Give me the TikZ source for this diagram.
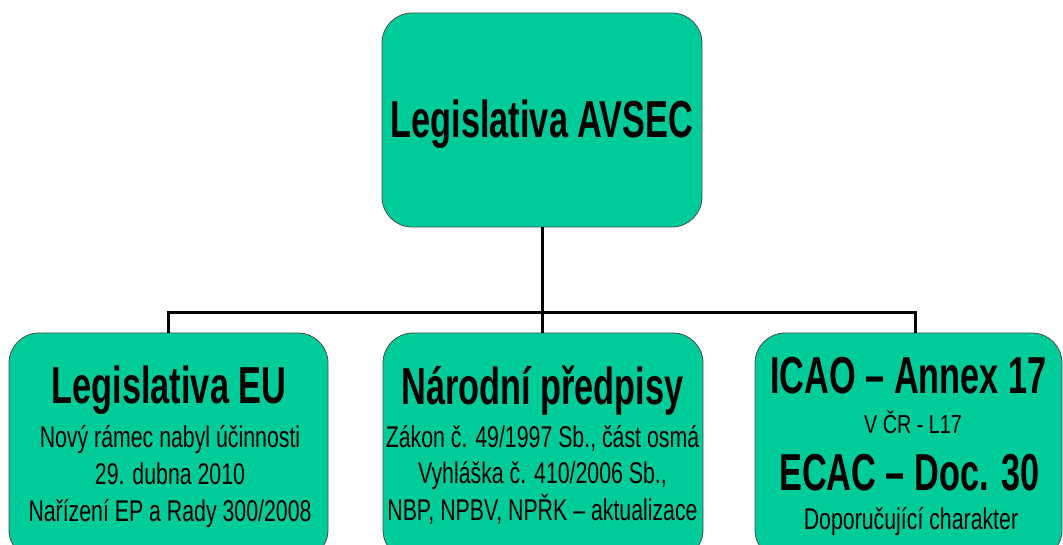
\documentclass[tikz,border=0pt]{standalone}
\usepackage{fontspec}
\setmainfont{Liberation Sans}
\newfontfamily\hdfont{Liberation Sans}[FakeStretch=0.66]
\newfontfamily\sbfont{Liberation Sans}[FakeStretch=0.71]
\newfontfamily\smfont{Liberation Sans}[FakeStretch=0.76]
\definecolor{boxgreen}{HTML}{00CC99}
\begin{document}
\begin{tikzpicture}[x=1pt,y=-1pt,
  box/.style={draw=black!70, line width=0.8pt, fill=boxgreen, rounded corners=30pt, inner sep=0pt},
  head/.style={anchor=base, inner sep=0pt, font=\hdfont\bfseries\fontsize{52}{52}\selectfont},
  sub/.style={anchor=base, inner sep=0pt, font=\sbfont\fontsize{30}{30}\selectfont},
  conn/.style={line width=3pt, black}]
\useasboundingbox (0,0) rectangle (1063,545);
% boxes
\node[box, minimum width=320pt, minimum height=214pt] (top) at (542,120) {};
\node[box, minimum width=319pt, minimum height=227pt] (lb) at (168.5,446.5) {};
\node[box, minimum width=320pt, minimum height=227pt] (mb) at (543,446.5) {};
\node[box, minimum width=307pt, minimum height=227pt] (rb) at (908.5,446.5) {};
% connectors
\coordinate (j) at (542,313);
\draw[conn] (top.south) -- (j);
\draw[conn] (lb.north) |- (j) -| ([xshift=6.5pt]rb.north);
\draw[conn] (j) -- (j |- mb.north);
% texts
\node[head] (t0) at (542,138) {Legislativa AVSEC};
\node[head] (t1) at (169,403) {Legislativa EU};
\node[sub] (t1a) at (170,447) {Nový rámec nabyl účinnosti};
\node[sub] (t1b) at (170,484) {29. dubna 2010};
\node[sub] (t1c) at (170,521) {Nařízení EP a Rady 300/2008};
\node[head] (t2) at (542.5,404) {Národní předpisy};
\node[sub] (t2a) at (542.5,447) {Zákon č. 49/1997 Sb., část osmá};
\node[sub] (t2b) at (542.5,483) {Vyhláška č. 410/2006 Sb.,};
\node[sub] (t2c) at (542.5,520) {NBP, NPBV, NPŘK – aktualizace};
\node[head] (t3) at (908.5,393) {ICAO – Annex 17};
\node[sub, font=\smfont\fontsize{26}{26}\selectfont] (t3a) at (913,433) {V ČR - L17};
\node[head] (t3b) at (909.5,490) {ECAC – Doc. 30};
\node[sub] (t3c) at (911,529) {Doporučující charakter};
\end{tikzpicture}
\end{document}
